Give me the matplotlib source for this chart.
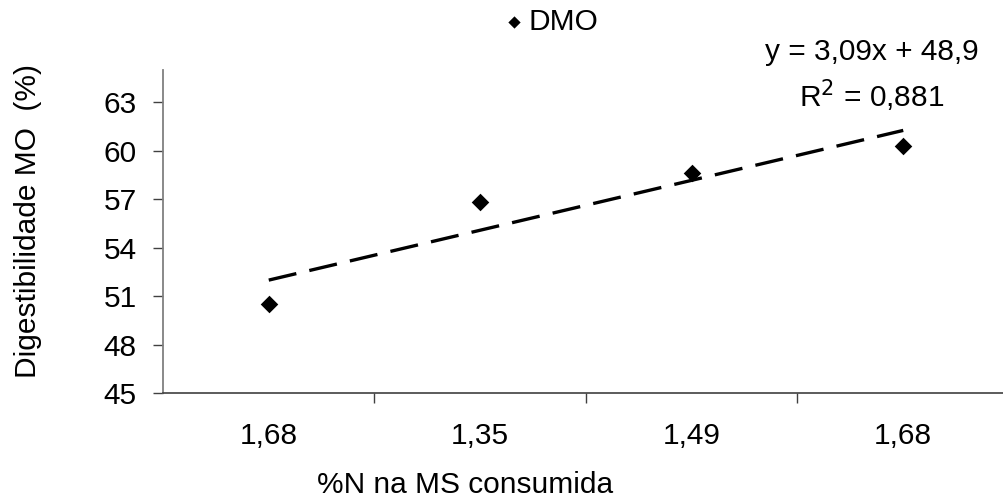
import numpy as np
import matplotlib
matplotlib.use("Agg")
import matplotlib.pyplot as plt

plt.rcParams['font.family'] = ['Liberation Sans', 'DejaVu Sans']

categorias = ["1,68", "1,35", "1,49", "1,68"]
dmo = [50.5, 56.8, 58.6, 60.3]
slope, intercept = 3.09, 48.9
y_ticks = [45, 48, 51, 54, 57, 60, 63]

fs = 21.5
fig = plt.figure(figsize=(10.04, 5.0), dpi=100)
ax = fig.add_axes([163 / 1004, 107 / 500, 846 / 1004, 323 / 500])

x = np.arange(1, len(categorias) + 1)
ax.scatter(x, dmo, marker="D", s=80, color="black", zorder=3, label="DMO", linewidths=0)
xt = np.array([x[0], x[-1]])
ax.plot(xt, slope * xt + intercept, color="black", lw=2.4, dashes=(8.5, 4))

ax.set_xlim(0.5, 4.5)
ax.set_ylim(45, 65)
ax.set_yticks(y_ticks)
ax.set_xticks(x)
ax.set_xticklabels(categorias)
ax.set_xticks([1.5, 2.5, 3.5], minor=True)
ax.tick_params(axis="x", which="major", length=0, pad=21, labelsize=fs)
ax.tick_params(axis="x", which="minor", length=7, width=1, color="#404040")
ax.tick_params(axis="y", length=7, width=1, color="#404040", labelsize=fs, pad=12)

for s in ["top", "right"]:
    ax.spines[s].set_visible(False)
ax.spines["left"].set_color("#808080")
ax.spines["left"].set_linewidth(1.3)
ax.spines["bottom"].set_color("#404040")
ax.spines["bottom"].set_linewidth(1.2)

fig.text(28 / 1004, 1 - 221 / 500, "Digestibilidade MO  (%)", rotation=90,
         ha="center", va="center", fontsize=fs)
fig.text(465 / 1004, 1 - 485 / 500, "%N na MS consumida", ha="center", va="center", fontsize=fs)

ax.legend(loc="center", bbox_to_anchor=(550 / 1004, 1 - 22 / 500), bbox_transform=fig.transFigure,
          frameon=False, fontsize=fs, handletextpad=0.1, handlelength=0.8, markerscale=0.7,
          borderaxespad=0, borderpad=0)

fig.text(872 / 1004, 1 - 52 / 500, "y = 3,09x + 48,9", ha="center", va="center", fontsize=fs)
fig.text(872 / 1004, 1 - 96 / 500, "R$^2$ = 0,881", ha="center", va="center", fontsize=fs)

fig.savefig("out.png", dpi=100)
